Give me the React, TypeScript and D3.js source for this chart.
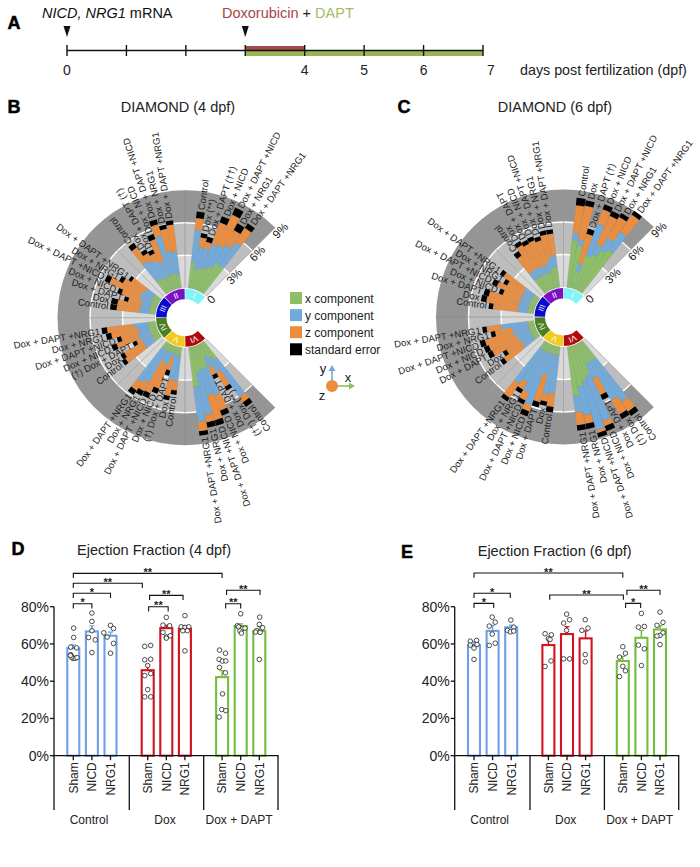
import * as d3 from 'd3'

const FONT = '"Liberation Sans", Arial, sans-serif'

// timeline (panel A)
const days = [0, 1, 2, 3, 4, 5, 6, 7]
const dayLabels = [0, 4, 5, 6, 7]

// DIAMOND wheels: sectors in clockwise order from the top, values in %
const sectorNames = ['I', 'II', 'III', 'IV', 'V', 'VI']
const sectorStart = [0, 315, 270, 225, 180, 135]
const sectorColors = ['#80f5f8', '#7a12c4', '#0a0ad0', '#4b7f22', '#f2cb1e', '#b00a0a']
const wheelTicks = ['0', '3%', '6%', '9%']
const wheelTickValues = [0, 3, 6, 9]
const components = ['x', 'y', 'z', 'se']
const componentColors = ['#8cc063', '#72aadb', '#ec8d3e', '#000000']
const legendLabels = ['x component', 'y component', 'z component', 'standard error']

const baseLabels = ['Control', 'Dox', 'Dox + DAPT', 'Dox + NICD', 'Dox + DAPT +NICD', 'Dox + NRG1', 'Dox + DAPT +NRG1']
const swap = (i: number, s: string) => baseLabels.map((d, k) => (k === i ? s : d))

const labelsB = [
  ['Control', 'Dox (**)', 'Dox + DAPT (††)', 'Dox + NICD', 'Dox + DAPT +NICD', 'Dox + NRG1', 'Dox + DAPT +NRG1'],
  swap(2, 'Dox + DAPT (†)'),
  baseLabels,
  swap(2, '(†) Dox + DAPT'),
  swap(2, '(†) Dox + DAPT'),
  swap(1, '(††) Dox (**)'),
]
const labelsC = [swap(2, 'Dox + DAPT (†)'), baseLabels, baseLabels, baseLabels, baseLabels, swap(1, '(†) Dox')]

const xB = [
  [2.4, 1.8, 1.9, 2.2, 2.4, 3.0, 3.0],
  [1.5, 1.4, 1.3, 1.3, 1.5, 1.4, 1.3],
  [0.6, 0.6, 0.6, 0.6, 0.7, 0.7, 0.7],
  [0.7, 0.7, 0.7, 0.7, 0.7, 0.7, 0.7],
  [0.8, 0.8, 0.7, 0.7, 0.7, 0.7, 0.7],
  [2.0, 1.5, 1.2, 2.2, 2.2, 2.4, 3.7],
]
const yB = [
  [3.0, 2.1, 2.0, 2.3, 2.2, 1.9, 2.6],
  [2.0, 1.9, 1.7, 1.5, 3.6, 2.1, 2.1],
  [0.9, 0.9, 0.8, 1.0, 1.2, 1.0, 0.9],
  [1.0, 1.0, 1.0, 1.2, 1.0, 1.0, 1.3],
  [2.3, 2.3, 0.4, 1.2, 1.0, 3.4, 3.7],
  [4.1, 1.6, 1.1, 2.7, 2.5, 4.0, 3.2],
]
const zB = [
  [1.1, 0.9, 0.6, 2.1, 3.1, 1.6, 1.6],
  [1.6, 0.8, 0.8, 2.2, 1.1, 2.1, 2.5],
  [2.1, 2.1, 1.3, 1.9, 3.0, 2.1, 1.6],
  [2.2, 2.0, 0.5, 2.1, 1.7, 2.5, 2.5],
  [0.9, 1.5, 1.2, 2.3, 3.2, 0.9, 0.9],
  [0.6, 1.5, 0.8, 1.5, 2.4, 0.7, 0.9],
]
const seB = [
  [0.6, 0.4, 0.5, 0.6, 0.7, 0.7, 0.5],
  [0.5, 0.4, 0.4, 0.5, 0.5, 0.4, 0.4],
  [0.6, 0.6, 0.4, 0.4, 0.5, 0.4, 0.3],
  [0.4, 0.4, 0.4, 0.5, 0.4, 0.5, 0.5],
  [0.4, 0.4, 0.5, 0.5, 0.5, 0.5, 0.5],
  [0.5, 0.4, 0.4, 0.5, 0.5, 0.5, 0.4],
]

const xC = [
  [4.4, 4.0, 1.6, 3.3, 3.6, 4.3, 4.7],
  [1.5, 1.5, 1.5, 1.5, 1.5, 1.8, 1.9],
  [0.6, 0.6, 0.6, 0.6, 0.6, 0.6, 0.6],
  [0.6, 0.6, 0.6, 0.6, 0.6, 0.6, 0.6],
  [0.8, 0.8, 0.8, 0.8, 0.8, 0.8, 0.8],
  [2.0, 2.0, 2.0, 3.0, 3.4, 3.8, 4.6],
]
const yC = [
  [0.7, 0.5, 0.8, 3.1, 1.0, 1.3, 2.0],
  [0.8, 0.9, 0.8, 0.8, 0.8, 1.0, 1.1],
  [0.9, 0.9, 0.9, 0.9, 0.9, 0.9, 1.0],
  [1.3, 1.0, 1.3, 1.3, 1.5, 1.5, 2.5],
  [3.5, 3.7, 2.0, 5.1, 4.1, 3.3, 3.8],
  [4.7, 4.1, 1.5, 4.5, 4.7, 2.7, 1.5],
]
const zC = [
  [2.5, 3.2, 2.8, 1.4, 2.9, 2.2, 1.9],
  [1.8, 2.5, 2.4, 2.5, 2.3, 2.2, 2.0],
  [2.3, 3.0, 2.9, 1.7, 2.5, 1.7, 2.3],
  [2.0, 1.7, 2.6, 2.7, 2.7, 1.6, 1.3],
  [1.3, 0.7, 2.6, 0.6, 0.8, 0.8, 1.6],
  [1.1, 1.5, 1.7, 0.5, 0.3, 0.8, 1.2],
]
const seC = [
  [0.7, 0.5, 0.5, 0.5, 0.5, 0.4, 0.4],
  [0.5, 0.4, 0.4, 0.4, 0.4, 0.4, 0.4],
  [0.4, 0.5, 0.5, 0.4, 0.5, 0.4, 0.4],
  [0.4, 0.4, 0.5, 0.5, 0.5, 0.4, 0.4],
  [0.5, 0.4, 0.5, 0.5, 0.4, 0.4, 0.4],
  [0.5, 0.5, 0.5, 0.5, 0.4, 0.5, 0.5],
]

// ejection fraction bars
const barNames = ['Sham', 'NICD', 'NRG1']
const groupNames = ['Control', 'Dox', 'Dox + DAPT']
const groupColors = ['#6f9fe8', '#d4121f', '#74bd3e']
const barSlots = [0, 1, 2, 4, 5, 6, 8, 9, 10]
const efTicks = [0, 20, 40, 60, 80]

const efD = [57.7, 66.7, 64.4, 45.9, 68.5, 68.2, 42.2, 69.6, 66.9]
const errD = [1.8, 3, 2, 2.8, 1.5, 1.5, 3.5, 1.2, 2.5]
const ptsD = [
  [68.5, 63.5, 58.3, 57.9, 54.2, 52.3, 52.3, 52.7, 53, 53.8],
  [76.6, 72.1, 67.1, 63.5, 62.2, 55.4],
  [70, 68.3, 66, 63.7, 60.3, 55],
  [58.7, 59.2, 51.5, 51.8, 48.4, 43, 44.1, 35.5, 31.6, 31.6],
  [74.3, 70.1, 69.8, 66.2, 63.7, 64.4, 63.1],
  [75.2, 69.2, 68.9, 69.2, 67.1, 67.1, 56.3],
  [56.7, 55, 51.7, 50.8, 50.9, 47.4, 44.5, 33.2, 24.8, 24.2, 20.8],
  [76.2, 69.8, 69.2, 68.2, 68.5, 67, 65.8],
  [74.4, 70.5, 68.7, 67.1, 66.2, 66.4, 51.7],
]
const jitterD = [
  [0.02, 0.02, -0.14, 0.18, -0.13, -0.02, 0.09, 0.2, -0.09, -0.16],
  [0, 0, 0, -0.18, 0.18, 0],
  [0, 0.16, -0.36, -0.18, 0.16, 0],
  [-0.16, 0.16, -0.16, 0.16, 0, -0.16, 0.16, 0, -0.16, 0.16],
  [0, -0.18, 0.18, -0.18, 0, 0.21, 0],
  [0, -0.2, 0, 0.21, 0.13, -0.11, 0],
  [-0.14, 0.18, -0.16, 0.02, 0.2, -0.14, 0.18, 0.02, -0.02, 0.2, -0.16],
  [0, -0.18, -0.11, 0.09, 0.23, -0.04, 0.04],
  [0.02, 0, 0.18, -0.14, 0.04, -0.2, 0],
]
const efE = [59.4, 67, 68.9, 59.4, 65.3, 63, 50.8, 63.3, 67.8]
const errE = [1.8, 3, 1.2, 3, 4, 4, 2.5, 4, 2]
const ptsE = [
  [61.5, 61.9, 59.4, 59.7, 57.8, 51.7],
  [74.4, 71.7, 69.6, 65.3, 60.4, 59.2],
  [72.8, 69, 67.3, 66.5, 66.9],
  [65.5, 64.9, 62.8, 62.4, 50.9, 47.9],
  [76, 73, 71.2, 67.3, 52, 52],
  [73, 68.5, 67.3, 54.3, 50.4],
  [58.5, 55, 52.9, 48, 45.6, 42.5],
  [76.4, 69, 69.4, 59.4, 57.4, 48.4],
  [77.1, 71.6, 70, 66, 64.6, 64.2, 59.7],
]
const jitterE = [
  [-0.2, 0.14, -0.2, 0.16, 0, 0],
  [-0.02, 0.14, -0.18, -0.02, 0.14, -0.18],
  [-0.02, 0.14, -0.2, -0.04, 0.13],
  [-0.18, 0.16, 0, 0.09, 0.14, -0.18],
  [-0.02, 0.14, -0.18, -0.02, -0.18, 0.14],
  [-0.02, 0.13, -0.2, -0.02, -0.02],
  [0, 0.14, -0.18, 0, 0.14, -0.18],
  [0, -0.16, 0.16, -0.16, 0.16, 0],
  [0, 0.16, -0.16, 0.16, 0, -0.16, 0],
]
// significance brackets: from slot, to slot, level (% on the axis), stars
const bracketsD: [number, number, number, string][] = [
  [0, 8, 97.9, '**'],
  [0, 3.71, 92.6, '**'],
  [0, 2, 87.2, '*'],
  [0, 1, 81.6, '*'],
  [4.1, 5.9, 86.1, '**'],
  [4.05, 5.1, 80, '**'],
  [8.24, 10.04, 88.8, '**'],
  [8.19, 9, 81.6, '**'],
]
const bracketsE: [number, number, number, string][] = [
  [0, 8, 98.1, '**'],
  [0, 1.95, 87.2, '*'],
  [0, 1.06, 81.8, '*'],
  [4.07, 8.03, 86.3, '**'],
  [8.15, 8.96, 81.8, '*'],
  [8.22, 10, 88.8, '**'],
]

const deg = (d: number) => (d * Math.PI) / 180
const rScale = d3.scaleLinear().domain([0, 9]).range([30, 127.5])
const ringArc = d3.arc<any>()

const polar = (theta: number, r: number) => [r * Math.sin(deg(theta)), -r * Math.cos(deg(theta))]

function Wheel({ cx, cy, xs, ys, zs, ses, labels }: any) {
  const stack = d3.stack<any>().keys(components)
  return (
    <g transform={`translate(${cx},${cy})`}>
      {sectorStart.map((s) => (
        <g key={s}>
          {[
            [0, 3, '#d9d9d9'],
            [3, 6, '#bdbdbd'],
            [6, 9, '#959595'],
          ].map(([a, b, fill]: any) => (
            <path
              key={a}
              fill={fill}
              d={ringArc({ innerRadius: rScale(a), outerRadius: rScale(b), startAngle: deg(s), endAngle: deg(s + 45) })!}
            />
          ))}
        </g>
      ))}
      {[3, 6].map((v) => (
        <path
          key={v}
          fill="#fff"
          d={ringArc({ innerRadius: rScale(v) - 0.7, outerRadius: rScale(v) + 0.7, startAngle: deg(135), endAngle: deg(405) })!}
        />
      ))}
      {[...sectorStart, 45].map((s) => {
        const [x1, y1] = polar(s, rScale(0))
        const [x2, y2] = polar(s, rScale(9))
        return <line key={s} x1={x1} y1={y1} x2={x2} y2={y2} stroke="#808080" strokeWidth={0.5} />
      })}
      {sectorStart.map((s, si) => {
        const rows = xs[si].map((_: number, i: number) => ({ x: xs[si][i], y: ys[si][i], z: zs[si][i], se: ses[si][i] }))
        const series = stack(rows)
        return (
          <g key={s}>
            {series.map((layer, li) =>
              layer.map((d, i) => {
                const theta = s + 8.5 + i * 4.55
                return (
                  <path
                    key={i}
                    fill={componentColors[li]}
                    stroke="#7d8a8f"
                    strokeWidth={li === 3 ? 0 : 0.3}
                    d={
                      ringArc({
                        innerRadius: rScale(d[0]),
                        outerRadius: rScale(d[1]),
                        startAngle: deg(theta - 2.2),
                        endAngle: deg(theta + 2.2),
                      })!
                    }
                  />
                )
              }),
            )}
            {rows.map((_: any, i: number) => {
              const theta = s + 8.5 + i * 4.55
              const top = series[3][i][1]
              const [tx, ty] = polar(theta, rScale(top) + 2)
              const outward = si < 2
              return (
                <text
                  key={i}
                  transform={`translate(${tx},${ty}) rotate(${outward ? theta - 90 : theta + 90})`}
                  textAnchor={outward ? 'start' : 'end'}
                  dy="0.35em"
                  fontSize={9.5}
                  fill="#222"
                >
                  {labels[si][i]}
                </text>
              )
            })}
            <path
              fill={sectorColors[si]}
              d={ringArc({ innerRadius: 18.5, outerRadius: 29, startAngle: deg(s + 0.8), endAngle: deg(s + 44.2) })!}
            />
            <text
              transform={(() => {
                const [x, y] = polar(s + 22.5, 23.7)
                return `translate(${x},${y}) rotate(${s + 22.5})`
              })()}
              textAnchor="middle"
              dy="0.35em"
              fontSize={8}
              fill="#fff"
            >
              {sectorNames[si]}
            </text>
          </g>
        )
      })}
      {wheelTicks.map((t, i) => {
        const [x, y] = polar(45, rScale(wheelTickValues[i]))
        return (
          <text
            key={t}
            transform={`translate(${x + 5},${y + 3}) rotate(-45)`}
            textAnchor="middle"
            dy="0.35em"
            fontSize={11.5}
            fill="#222"
          >
            {t}
          </text>
        )
      })}
    </g>
  )
}

const efY = d3.scaleLinear().domain([0, 80]).range([755.7, 606.7])

function EjectionChart({ dx, title, titleY, ef, err, pts, jitter, brackets }: any) {
  const slot = d3.scaleLinear().domain([0, 10]).range([73.3, 259.3])
  const axisLeft = 54
  const axisRight = 278
  const dividers = [axisLeft, 129.3, 203.7, axisRight]
  const groupCenters = [89, 165, 239]
  const drop = 4.7
  return (
    <g transform={`translate(${dx},0)`}>
      <text x={154} y={titleY} textAnchor="middle" fontSize={14.5} fill="#222">
        {title}
      </text>
      {barSlots.map((b, i) => {
        const color = groupColors[Math.floor(i / 3)]
        const x = slot(b)
        return (
          <g key={b}>
            <rect
              x={x - 6}
              y={efY(ef[i])}
              width={12}
              height={efY(0) - efY(ef[i])}
              fill="none"
              stroke={color}
              strokeWidth={2.1}
            />
            <line x1={x} x2={x} y1={efY(ef[i])} y2={efY(ef[i] + err[i])} stroke={color} strokeWidth={1.5} />
            <line x1={x - 2.5} x2={x + 2.5} y1={efY(ef[i] + err[i])} y2={efY(ef[i] + err[i])} stroke={color} strokeWidth={1.2} />
            {pts[i].map((v: number, k: number) => (
              <circle
                key={k}
                cx={slot(b + jitter[i][k])}
                cy={efY(v)}
                r={2.3}
                fill="#fff"
                fillOpacity={0.85}
                stroke="#222"
                strokeWidth={0.8}
              />
            ))}
            <line x1={x} x2={x} y1={efY(0)} y2={efY(0) + 4.5} stroke="#111" strokeWidth={1.3} />
            <text
              transform={`translate(${x},${efY(0) + 6.5}) rotate(-90)`}
              textAnchor="end"
              dy="0.36em"
              fontSize={12}
              fill="#222"
            >
              {barNames[i % 3]}
            </text>
          </g>
        )
      })}
      <line x1={axisLeft} x2={axisLeft} y1={efY(80)} y2={efY(0)} stroke="#111" strokeWidth={1.3} />
      <line x1={axisLeft - 0.6} x2={axisRight + 0.6} y1={efY(0)} y2={efY(0)} stroke="#111" strokeWidth={1.3} />
      {efTicks.map((t) => (
        <g key={t}>
          <line x1={axisLeft - 4} x2={axisLeft} y1={efY(t)} y2={efY(t)} stroke="#111" strokeWidth={1.3} />
          <text x={axisLeft - 5} y={efY(t)} dy="0.36em" textAnchor="end" fontSize={14} fill="#222">
            {t}%
          </text>
        </g>
      ))}
      {dividers.map((x) => (
        <line key={x} x1={x} x2={x} y1={efY(0)} y2={810} stroke="#111" strokeWidth={1.3} />
      ))}
      {groupNames.map((g, i) => (
        <text key={g} x={groupCenters[i]} y={824} textAnchor="middle" fontSize={12} fill="#222">
          {g}
        </text>
      ))}
      {brackets.map(([a, b, level, stars]: any, i: number) => {
        const y = efY(level)
        return (
          <g key={i}>
            <path
              d={`M${slot(a)},${y + drop}V${y}H${slot(b)}V${y + drop}`}
              fill="none"
              stroke="#111"
              strokeWidth={1.1}
            />
            <text x={(slot(a) + slot(b)) / 2} y={y + 2.6} textAnchor="middle" fontSize={11} fontWeight="bold" fill="#222">
              {stars}
            </text>
          </g>
        )
      })}
    </g>
  )
}

function PanelLetter({ x, y, t }: { x: number; y: number; t: string }) {
  return (
    <text x={x} y={y} textAnchor="middle" fontSize={18} fontWeight="bold" fill="#000" stroke="#000" strokeWidth={0.5}>
      {t}
    </text>
  )
}

export default function App() {
  const dayX = d3.scaleLinear().domain([0, 7]).range([67, 483])
  const lineY = 50.5
  const arrowMarkers = [0, 3]
  return (
    <svg
      width={700}
      height={867}
      viewBox="0 0 700 867"
      style={{ position: 'absolute', left: 0, top: 0, background: '#fff' }}
      fontFamily={FONT}
    >
      <PanelLetter x={14} y={29} t="A" />
      <PanelLetter x={14} y={113} t="B" />
      <PanelLetter x={404} y={113} t="C" />
      <PanelLetter x={18} y={555} t="D" />
      <PanelLetter x={407} y={558} t="E" />

      {/* timeline */}
      <text x={42} y={18} fontSize={14.5} fill="#111">
        <tspan fontStyle="italic">NICD, NRG1</tspan> mRNA
      </text>
      <text x={222} y={18} fontSize={14.5}>
        <tspan fill="#a5474a">Doxorubicin</tspan>
        <tspan fill="#222"> + </tspan>
        <tspan fill="#a3bb6b">DAPT</tspan>
      </text>
      {arrowMarkers.map((d) => (
        <path
          key={d}
          transform={`translate(${dayX(d)},26)`}
          d={d3.line()([
            [-3.5, 0],
            [3.5, 0],
            [0, 11],
          ])! + 'Z'}
          fill="#111"
        />
      ))}
      <rect x={dayX(3)} y={46} width={dayX(4) - dayX(3)} height={4} fill="#a5484a" />
      <rect x={dayX(3)} y={51} width={dayX(7) - dayX(3)} height={5} fill="#9ab556" />
      <line x1={dayX(0)} x2={dayX(7)} y1={lineY} y2={lineY} stroke="#111" strokeWidth={1.6} />
      {days.map((d) => (
        <line key={d} x1={dayX(d)} x2={dayX(d)} y1={45} y2={56} stroke="#111" strokeWidth={1.4} />
      ))}
      {dayLabels.map((d) => (
        <text key={d} x={dayX(d) + (d === 7 ? 8 : 0)} y={75} textAnchor="middle" fontSize={14} fill="#222">
          {d}
        </text>
      ))}
      <text x={520} y={75} fontSize={14.3} fill="#222">
        days post fertilization (dpf)
      </text>

      {/* wheels */}
      <text x={178} y={112} textAnchor="middle" fontSize={14.5} fill="#222">
        DIAMOND (4 dpf)
      </text>
      <text x={555} y={112} textAnchor="middle" fontSize={14.5} fill="#222">
        DIAMOND (6 dpf)
      </text>
      <Wheel cx={185} cy={317.7} xs={xB} ys={yB} zs={zB} ses={seB} labels={labelsB} />
      <Wheel cx={563.5} cy={317} xs={xC} ys={yC} zs={zC} ses={seC} labels={labelsC} />

      {/* legend */}
      {legendLabels.map((l, i) => (
        <g key={l} transform={`translate(290,${292 + i * 17.1})`}>
          <rect width={12} height={12} fill={componentColors[i]} />
          <text x={15} y={10.5} fontSize={12} fill="#222">
            {l}
          </text>
        </g>
      ))}
      <line x1={332} x2={332} y1={386} y2={370} stroke="#72aadb" strokeWidth={1.6} />
      <path d={d3.line()([[328.5, 371], [335.5, 371], [332, 365]])! + 'Z'} fill="#72aadb" />
      <line x1={332} x2={350} y1={386} y2={386} stroke="#8cc063" strokeWidth={1.6} />
      <path d={d3.line()([[349, 382.5], [349, 389.5], [355, 386]])! + 'Z'} fill="#8cc063" />
      <circle cx={332} cy={386} r={6} fill="#ec8d3e" />
      <text x={323} y={373} textAnchor="middle" fontSize={13} fill="#222">y</text>
      <text x={348} y={382} textAnchor="middle" fontSize={13} fill="#222">x</text>
      <text x={322} y={400} textAnchor="middle" fontSize={13} fill="#222">z</text>

      {/* ejection fraction */}
      <EjectionChart dx={0} title="Ejection Fraction (4 dpf)" titleY={555} ef={efD} err={errD} pts={ptsD} jitter={jitterD} brackets={bracketsD} />
      <EjectionChart dx={400.7} title="Ejection Fraction (6 dpf)" titleY={556} ef={efE} err={errE} pts={ptsE} jitter={jitterE} brackets={bracketsE} />
    </svg>
  )
}
